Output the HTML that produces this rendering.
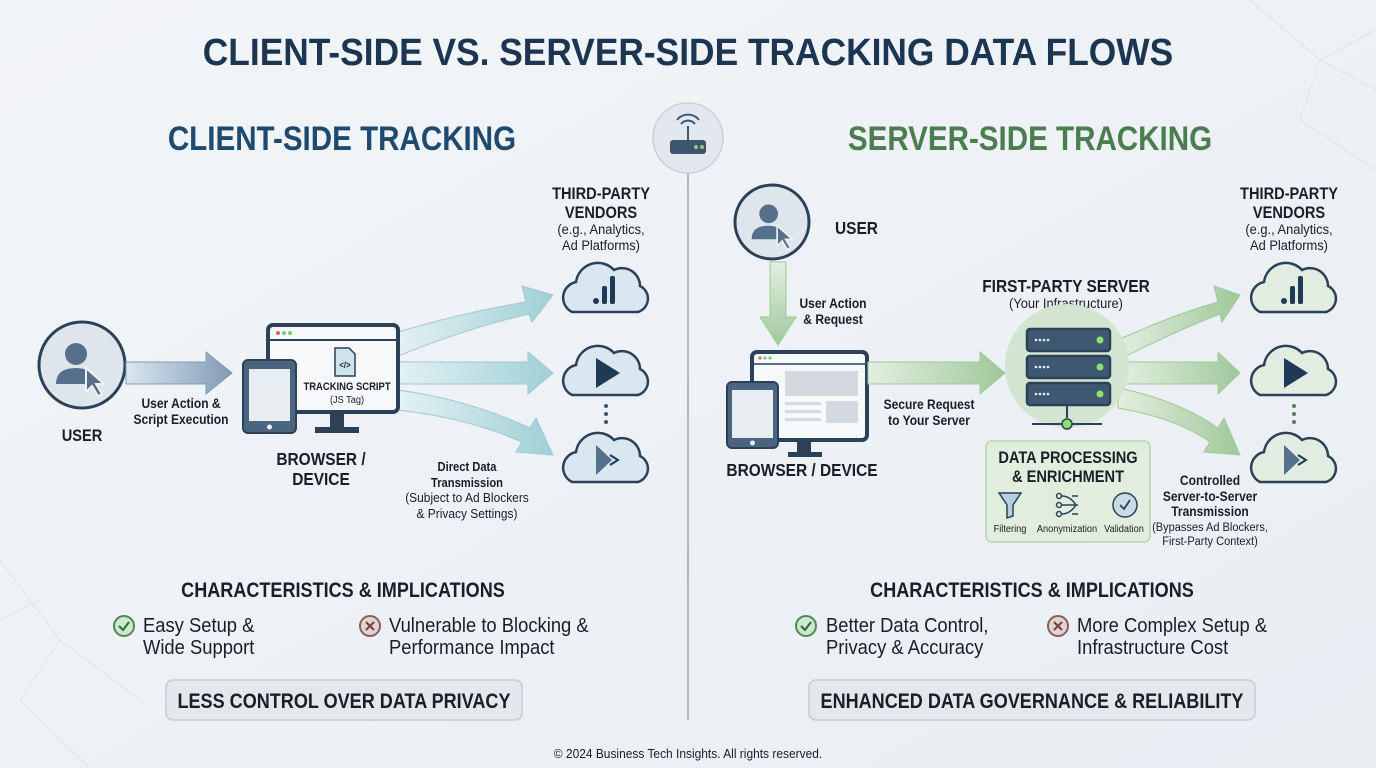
<!DOCTYPE html>
<html><head><meta charset="utf-8"><style>
html,body{margin:0;padding:0;background:#eef2f6;}
svg{display:block}
text{font-family:"Liberation Sans Narrow","Liberation Sans",sans-serif;transform-box:fill-box;transform-origin:center;}
.b{font-weight:bold;fill:#1a1f26;transform:scaleX(0.86)}
.n{fill:#1a1f26;transform:scaleX(0.92)}
.l{transform-origin:left center}
.t{transform:scaleX(0.93)}
.h{transform:scaleX(0.87)}
</style></head><body>
<svg width="1376" height="768" viewBox="0 0 1376 768" xmlns="http://www.w3.org/2000/svg">
<defs>
<linearGradient id="bg" x1="0" y1="0" x2="1" y2="1"><stop offset="0" stop-color="#f2f5f8"/><stop offset="1" stop-color="#e9eef3"/></linearGradient>
<linearGradient id="ab" x1="0" x2="1"><stop offset="0" stop-color="#dbe6f0"/><stop offset="1" stop-color="#7f9bb5"/></linearGradient>
<linearGradient id="at" x1="0" x2="1"><stop offset="0" stop-color="#e4f1f3"/><stop offset="1" stop-color="#9fd0d6"/></linearGradient>
<linearGradient id="ag" x1="0" x2="1"><stop offset="0" stop-color="#e3efe0"/><stop offset="1" stop-color="#9fc89a"/></linearGradient>
<linearGradient id="agv" x1="0" y1="0" x2="0" y2="1"><stop offset="0" stop-color="#e3efe0"/><stop offset="1" stop-color="#9fc89a"/></linearGradient>
<g id="cloud"><path d="M-34,22 A16,16 0 0 1 -30,-8 A22,22 0 0 1 8,-20 A18,18 0 0 1 34,-4 A14,14 0 0 1 32,22 Z" fill="#dbe7f0" stroke="#2c4158" stroke-width="2.5"/></g>
<g id="cloudg"><path d="M-34,22 A16,16 0 0 1 -30,-8 A22,22 0 0 1 8,-20 A18,18 0 0 1 34,-4 A14,14 0 0 1 32,22 Z" fill="#e2ede2" stroke="#2c4158" stroke-width="2.5"/></g>
<g id="person"><circle cx="-4" cy="-12" r="11" fill="#56708c"/><path d="M-24,18 Q-24,2 -4,2 Q14,2 14,18 Z" fill="#56708c"/><path d="M6,2 L6,26 L12,20 L18,30 L22,28 L16,18 L24,18 Z" fill="#56708c" stroke="#eef2f6" stroke-width="2"/></g>
</defs>
<rect width="1376" height="768" fill="url(#bg)"/>
<g stroke="#d5dde5" stroke-width="1" fill="none" opacity="0.7">
<path d="M0,560 L60,640 L20,700 L90,768 M60,640 L140,700 M0,620 L40,600"/>
<path d="M1250,0 L1320,60 L1376,30 M1320,60 L1300,120 L1376,170 M1320,60 L1376,90"/>
</g>
<text x="688" y="65" text-anchor="middle" font-size="38" font-weight="bold" fill="#1c3550" class="t">CLIENT-SIDE VS. SERVER-SIDE TRACKING DATA FLOWS</text>
<text x="342" y="150" text-anchor="middle" font-size="34" font-weight="bold" fill="#1f4a70" class="h">CLIENT-SIDE TRACKING</text>
<text x="1030" y="150" text-anchor="middle" font-size="34" font-weight="bold" fill="#4b7d4e" class="h">SERVER-SIDE TRACKING</text>
<line x1="688" y1="165" x2="688" y2="720" stroke="#9aa6b2" stroke-width="1.5"/>
<circle cx="688" cy="138" r="35" fill="#e3e8ee" stroke="#c8d0d8" stroke-width="1.5"/>
<rect x="670" y="140" width="36" height="14" rx="3" fill="#3c5670"/>
<circle cx="696" cy="147" r="2" fill="#8fd06a"/><circle cx="702" cy="147" r="2" fill="#8fd06a"/>
<line x1="688" y1="140" x2="688" y2="126" stroke="#3c5670" stroke-width="2"/>
<path d="M681,124 A9,9 0 0 1 695,124 M677,120 A14,14 0 0 1 699,120" stroke="#3c5670" stroke-width="2" fill="none"/>

<!-- LEFT -->
<circle cx="82" cy="365" r="43" fill="#dfe5ec" stroke="#2c4158" stroke-width="3"/>
<use href="#person" x="80" y="366"/>
<path d="M126,362 L206,362 L206,352 L232,373 L206,394 L206,384 L126,384 Z" fill="url(#ab)" stroke="#7f9bb5" stroke-width="1"/>
<text x="181" y="408" text-anchor="middle" font-size="14" class="b">User Action &amp;</text>
<text x="181" y="424" text-anchor="middle" font-size="14" class="b">Script Execution</text>
<text x="82" y="441" text-anchor="middle" font-size="17" class="b">USER</text>
<path d="M398,332 Q465,312 526,302 L522,286 L553,295 L532,322 L529,314 Q468,328 398,356 Z" fill="url(#at)" stroke="#9fc9cf"/>
<path d="M398,362 L528,362 L528,352 L553,373 L528,394 L528,384 L398,384 Z" fill="url(#at)" stroke="#9fc9cf"/>
<path d="M398,390 Q470,400 530,428 L536,418 L553,455 L516,452 L522,442 Q468,418 398,410 Z" fill="url(#at)" stroke="#9fc9cf"/>
<rect x="268" y="325" width="130" height="87" rx="5" fill="#f6f8fa" stroke="#2c4158" stroke-width="4"/>
<line x1="270" y1="340" x2="396" y2="340" stroke="#2c4158" stroke-width="2"/>
<circle cx="278" cy="333" r="2" fill="#d66"/><circle cx="284" cy="333" r="2" fill="#7c7"/><circle cx="290" cy="333" r="2" fill="#7c7"/>
<rect x="330" y="412" width="14" height="16" fill="#2c4158"/><rect x="315" y="427" width="44" height="6" fill="#2c4158"/>
<path d="M335,348 L349,348 L355,354 L355,376 L335,376 Z" fill="#cfe3ef" stroke="#2c4158" stroke-width="1.5"/>
<text x="345" y="368" text-anchor="middle" font-size="9" class="b">&lt;/&gt;</text>
<text x="347" y="390" text-anchor="middle" font-size="11" class="b">TRACKING SCRIPT</text>
<text x="347" y="403" text-anchor="middle" font-size="10" class="n">(JS Tag)</text>
<rect x="243" y="360" width="53" height="73" rx="5" fill="#4b6580" stroke="#2c4158" stroke-width="2"/>
<rect x="249" y="369" width="41" height="52" fill="#e8edf2"/>
<circle cx="269.5" cy="427" r="2.5" fill="#eee"/>
<text x="321" y="465" text-anchor="middle" font-size="18" class="b">BROWSER /</text>
<text x="321" y="485" text-anchor="middle" font-size="18" class="b">DEVICE</text>
<text x="467" y="471" text-anchor="middle" font-size="13" class="b">Direct Data</text>
<text x="467" y="487" text-anchor="middle" font-size="13" class="b">Transmission</text>
<text x="467" y="502" text-anchor="middle" font-size="13" class="n">(Subject to Ad Blockers</text>
<text x="467" y="518" text-anchor="middle" font-size="13" class="n">&amp; Privacy Settings)</text>
<text x="601" y="199" text-anchor="middle" font-size="17" class="b">THIRD-PARTY</text>
<text x="601" y="218" text-anchor="middle" font-size="17" class="b">VENDORS</text>
<text x="601" y="234" text-anchor="middle" font-size="14" class="n">(e.g., Analytics,</text>
<text x="601" y="250" text-anchor="middle" font-size="14" class="n">Ad Platforms)</text>
<use href="#cloud" x="606" y="290"/>
<circle cx="596" cy="301" r="3" fill="#1f3a56"/><rect x="602" y="286" width="5" height="18" rx="2" fill="#1f3a56"/><rect x="610" y="276" width="5" height="28" rx="2" fill="#1f3a56"/>
<use href="#cloud" x="606" y="373"/>
<path d="M596,358 L620,373 L596,388 Z" fill="#1f3a56"/>
<circle cx="606" cy="406" r="2" fill="#3c5670"/><circle cx="606" cy="414" r="2" fill="#3c5670"/><circle cx="606" cy="422" r="2" fill="#3c5670"/>
<use href="#cloud" x="606" y="460"/>
<path d="M596,445 L612,460 L596,475 Z" fill="#56708c"/><path d="M610,455 L618,460 L610,465" stroke="#1f3a56" stroke-width="2" fill="none"/>
<text x="343" y="597" text-anchor="middle" font-size="21" class="b">CHARACTERISTICS &amp; IMPLICATIONS</text>
<circle cx="124" cy="626" r="10" fill="#cfe6cf" stroke="#4e8a54" stroke-width="2"/><path d="M119,626 L123,630 L129,622" stroke="#2f6a37" stroke-width="2" fill="none"/>
<text x="143" y="632" font-size="20" class="n l">Easy Setup &amp;</text>
<text x="143" y="654" font-size="20" class="n l">Wide Support</text>
<circle cx="370" cy="626" r="10" fill="#e5d2d2" stroke="#8b5e5e" stroke-width="2"/><path d="M366,622 L374,630 M374,622 L366,630" stroke="#6b4444" stroke-width="2"/>
<text x="389" y="632" font-size="20" class="n l">Vulnerable to Blocking &amp;</text>
<text x="389" y="654" font-size="20" class="n l">Performance Impact</text>
<rect x="166" y="680" width="356" height="40" rx="7" fill="#e4e7eb" stroke="#c5cbd2" stroke-width="1.5"/>
<text x="344" y="708" text-anchor="middle" font-size="21" class="b">LESS CONTROL OVER DATA PRIVACY</text>

<!-- RIGHT -->
<circle cx="772" cy="222" r="37" fill="#dfe5ec" stroke="#2c4158" stroke-width="3"/>
<g transform="translate(772 224) scale(0.85)"><use href="#person"/></g>
<text x="835" y="234" font-size="18" class="b l">USER</text>
<path d="M770,262 L786,262 L786,317 L796,317 L778,345 L760,317 L770,317 Z" fill="url(#agv)" stroke="#9fc89a"/>
<text x="833" y="308" text-anchor="middle" font-size="14" class="b">User Action</text>
<text x="833" y="324" text-anchor="middle" font-size="14" class="b">&amp; Request</text>
<rect x="752" y="352" width="115" height="88" rx="5" fill="#f6f8fa" stroke="#2c4158" stroke-width="4"/>
<line x1="754" y1="364" x2="865" y2="364" stroke="#2c4158" stroke-width="1.5"/>
<circle cx="760" cy="358" r="1.6" fill="#d66"/><circle cx="765" cy="358" r="1.6" fill="#7c7"/><circle cx="770" cy="358" r="1.6" fill="#7c7"/>
<rect x="785" y="371" width="73" height="25" fill="#d4d9df"/><rect x="785" y="402" width="36" height="3" fill="#d4d9df"/><rect x="785" y="410" width="36" height="3" fill="#d4d9df"/><rect x="785" y="418" width="36" height="3" fill="#d4d9df"/><rect x="826" y="401" width="32" height="22" fill="#d4d9df"/>
<rect x="797" y="440" width="14" height="14" fill="#2c4158"/><rect x="788" y="452" width="34" height="5" fill="#2c4158"/>
<rect x="727" y="382" width="51" height="66" rx="5" fill="#4b6580" stroke="#2c4158" stroke-width="2"/>
<rect x="732" y="390" width="41" height="48" fill="#e8edf2"/><circle cx="752.5" cy="443" r="2.5" fill="#eee"/>
<text x="802" y="476" text-anchor="middle" font-size="18" class="b">BROWSER / DEVICE</text>
<path d="M868,362 L980,362 L980,352 L1005,373 L980,394 L980,384 L868,384 Z" fill="url(#ag)" stroke="#9fc89a"/>
<text x="929" y="409" text-anchor="middle" font-size="14" class="b">Secure Request</text>
<text x="929" y="425" text-anchor="middle" font-size="14" class="b">to Your Server</text>
<text x="1066" y="292" text-anchor="middle" font-size="18" class="b">FIRST-PARTY SERVER</text>
<text x="1066" y="308" text-anchor="middle" font-size="14" class="n">(Your Infrastructure)</text>
<path d="M1118,340 Q1175,314 1218,302 L1214,286 L1240,295 L1222,322 L1220,314 Q1178,330 1118,360 Z" fill="url(#ag)" stroke="#9fc89a"/>
<path d="M1122,362 L1218,362 L1218,352 L1240,373 L1218,394 L1218,384 L1122,384 Z" fill="url(#ag)" stroke="#9fc89a"/>
<path d="M1118,388 Q1178,400 1218,428 L1224,418 L1240,455 L1204,452 L1210,442 Q1176,418 1118,408 Z" fill="url(#ag)" stroke="#9fc89a"/>
<circle cx="1067" cy="366" r="62" fill="#d3e5d0"/>
<g stroke="#2c4158" stroke-width="2.5" fill="#3f5872">
<rect x="1027" y="329" width="83" height="22" rx="3"/><rect x="1027" y="356" width="83" height="22" rx="3"/><rect x="1027" y="383" width="83" height="22" rx="3"/>
</g>
<g fill="#e6edf3"><circle cx="1036" cy="340" r="1.3"/><circle cx="1040" cy="340" r="1.3"/><circle cx="1044" cy="340" r="1.3"/><circle cx="1048" cy="340" r="1.3"/>
<circle cx="1036" cy="367" r="1.3"/><circle cx="1040" cy="367" r="1.3"/><circle cx="1044" cy="367" r="1.3"/><circle cx="1048" cy="367" r="1.3"/>
<circle cx="1036" cy="394" r="1.3"/><circle cx="1040" cy="394" r="1.3"/><circle cx="1044" cy="394" r="1.3"/><circle cx="1048" cy="394" r="1.3"/></g>
<g fill="#8ee06a"><circle cx="1100" cy="340" r="3.5"/><circle cx="1100" cy="367" r="3.5"/><circle cx="1100" cy="394" r="3.5"/></g>
<line x1="1067" y1="405" x2="1067" y2="418" stroke="#2c4158" stroke-width="2"/>
<line x1="1032" y1="424" x2="1102" y2="424" stroke="#2c4158" stroke-width="2"/>
<circle cx="1067" cy="424" r="5" fill="#8ee06a" stroke="#2c4158" stroke-width="1.5"/>
<rect x="986" y="441" width="164" height="101" rx="6" fill="#e1eedd" stroke="#b8d4b2" stroke-width="1.5"/>
<text x="1068" y="463" text-anchor="middle" font-size="17" class="b">DATA PROCESSING</text>
<text x="1068" y="482" text-anchor="middle" font-size="17" class="b">&amp; ENRICHMENT</text>
<path d="M999,493 L1021,493 L1013,505 L1013,516 L1007,518 L1007,505 Z" fill="#b7d0e0" stroke="#2c4158" stroke-width="1.5"/>
<g stroke="#2c4158" stroke-width="1.5" fill="none"><circle cx="1059" cy="496" r="2.5"/><circle cx="1059" cy="505" r="2.5"/><circle cx="1059" cy="514" r="2.5"/><path d="M1062,496 Q1070,496 1076,505 M1062,505 L1078,505 M1062,514 Q1070,514 1076,505 M1072,496 L1078,496 M1072,514 L1078,514"/></g>
<circle cx="1125" cy="505" r="12" fill="#c9dce6" stroke="#2c4158" stroke-width="1.5"/><path d="M1120,505 L1124,509 L1130,500" stroke="#2c4158" stroke-width="1.8" fill="none"/>
<text x="1010" y="532" text-anchor="middle" font-size="10" class="n">Filtering</text>
<text x="1067" y="532" text-anchor="middle" font-size="10" class="n">Anonymization</text>
<text x="1124" y="532" text-anchor="middle" font-size="10" class="n">Validation</text>
<text x="1210" y="485" text-anchor="middle" font-size="14" class="b">Controlled</text>
<text x="1210" y="501" text-anchor="middle" font-size="14" class="b">Server-to-Server</text>
<text x="1210" y="516" text-anchor="middle" font-size="14" class="b">Transmission</text>
<text x="1210" y="531" text-anchor="middle" font-size="12" class="n">(Bypasses Ad Blockers,</text>
<text x="1210" y="545" text-anchor="middle" font-size="12" class="n">First-Party Context)</text>
<text x="1289" y="199" text-anchor="middle" font-size="17" class="b">THIRD-PARTY</text>
<text x="1289" y="218" text-anchor="middle" font-size="17" class="b">VENDORS</text>
<text x="1289" y="234" text-anchor="middle" font-size="14" class="n">(e.g., Analytics,</text>
<text x="1289" y="250" text-anchor="middle" font-size="14" class="n">Ad Platforms)</text>
<use href="#cloudg" x="1294" y="290"/>
<circle cx="1284" cy="301" r="3" fill="#1f3a56"/><rect x="1290" y="286" width="5" height="18" rx="2" fill="#1f3a56"/><rect x="1298" y="276" width="5" height="28" rx="2" fill="#1f3a56"/>
<use href="#cloudg" x="1294" y="373"/>
<path d="M1284,358 L1308,373 L1284,388 Z" fill="#1f3a56"/>
<circle cx="1294" cy="406" r="2" fill="#5a7a5a"/><circle cx="1294" cy="414" r="2" fill="#5a7a5a"/><circle cx="1294" cy="422" r="2" fill="#5a7a5a"/>
<use href="#cloudg" x="1294" y="460"/>
<path d="M1284,445 L1300,460 L1284,475 Z" fill="#56708c"/><path d="M1298,455 L1306,460 L1298,465" stroke="#1f3a56" stroke-width="2" fill="none"/>
<text x="1032" y="597" text-anchor="middle" font-size="21" class="b">CHARACTERISTICS &amp; IMPLICATIONS</text>
<circle cx="806" cy="626" r="10" fill="#cfe6cf" stroke="#4e8a54" stroke-width="2"/><path d="M801,626 L805,630 L811,622" stroke="#2f6a37" stroke-width="2" fill="none"/>
<text x="826" y="632" font-size="20" class="n l">Better Data Control,</text>
<text x="826" y="654" font-size="20" class="n l">Privacy &amp; Accuracy</text>
<circle cx="1058" cy="626" r="10" fill="#e5d2d2" stroke="#8b5e5e" stroke-width="2"/><path d="M1054,622 L1062,630 M1062,622 L1054,630" stroke="#6b4444" stroke-width="2"/>
<text x="1077" y="632" font-size="20" class="n l">More Complex Setup &amp;</text>
<text x="1077" y="654" font-size="20" class="n l">Infrastructure Cost</text>
<rect x="809" y="680" width="446" height="40" rx="7" fill="#e4e7eb" stroke="#c5cbd2" stroke-width="1.5"/>
<text x="1032" y="708" text-anchor="middle" font-size="21" class="b">ENHANCED DATA GOVERNANCE &amp; RELIABILITY</text>
<text x="688" y="758" text-anchor="middle" font-size="13" fill="#55606b" class="n">© 2024 Business Tech Insights. All rights reserved.</text>
</svg>
</body></html>
